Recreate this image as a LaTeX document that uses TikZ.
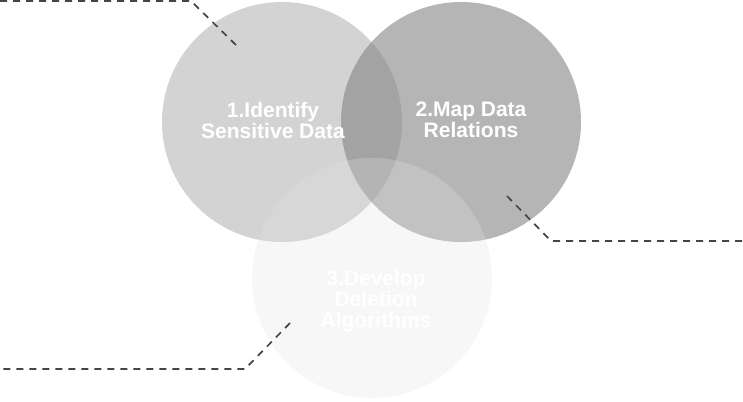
\documentclass[tikz,border=0pt]{standalone}
\usepackage{fontspec}
\setsansfont{Liberation Sans}
\usepackage{xcolor}
\definecolor{circA}{HTML}{D3D3D3}
\definecolor{circB}{HTML}{828282}
\definecolor{circC}{HTML}{E2E2E2}
\definecolor{leadgray}{HTML}{454545}

\begin{document}
\begin{tikzpicture}[x=1pt, y=-1pt,
    stage/.style={circle, minimum size=240pt, inner sep=0pt},
    steptext/.style={text=white, align=center, inner sep=0pt,
        font=\sffamily\bfseries\fontsize{21}{21}\selectfont},
    leader/.style={draw=leadgray, line width=1.7pt, dash pattern=on 7pt off 6pt}]
\useasboundingbox (0,0) rectangle (743,401);

% Circles
\node[stage, fill=circA] (C1) at (282,122) {};
\node[stage, fill=circB, fill opacity=0.59] (C2) at (461,122) {};
\node[stage, fill=circC, fill opacity=0.27] (C3) at (372,278) {};

% Labels
\node[steptext] (T1) at (273,120) {1.Identify\\Sensitive Data};
\node[steptext] (T2) at (471,120) {2.Map Data\\Relations};
\node[steptext] (T3) at (376,301) {3.Develop\\Deletion\\Algorithms};

% Leader lines
\coordinate (L1s) at (0,1);
\coordinate (L1k) at (191,1);
\coordinate (L1e) at (237,46);
\draw[leader] (L1s) -- (L1k) -- (L1e);

\coordinate (L2s) at (507,196);
\coordinate (L2k) at (551,241);
\coordinate (L2e) at (743,241);
\draw[leader] (L2s) -- (L2k) -- (L2e);

\coordinate (L3s) at (290,323);
\coordinate (L3k) at (245,369);
\coordinate (L3e) at (0,369);
\draw[leader] (L3s) -- (L3k) -- (L3e);

\end{tikzpicture}
\end{document}
